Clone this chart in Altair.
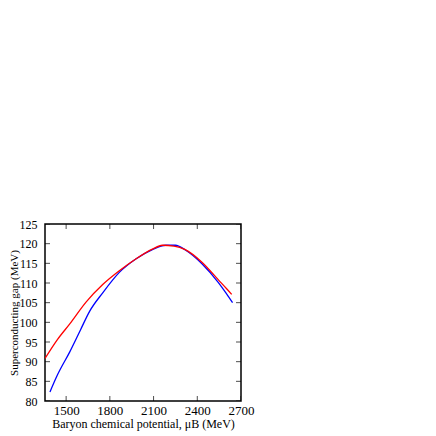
import altair as alt
import pandas as pd

# Blue curve
blue_mu = [1389, 1440, 1525, 1600, 1661, 1751, 1865, 1978, 2092, 2183, 2250, 2318, 2432, 2545, 2600, 2642]
blue_gap = [82.3, 86.6, 92.5, 98.2, 102.8, 107.5, 112.7, 116.1, 118.5, 119.6, 119.6, 118.4, 114.9, 110.1, 107.3, 105.0]

# Red curve
red_mu = [1355, 1440, 1525, 1638, 1751, 1865, 1978, 2092, 2160, 2240, 2318, 2432, 2545, 2600, 2636]
red_gap = [90.8, 95.6, 99.6, 105.2, 109.6, 113.1, 116.1, 118.6, 119.6, 119.4, 118.5, 115.3, 110.8, 108.6, 107.1]

x_ticks = [1500, 1800, 2100, 2400, 2700]
y_ticks = [80, 85, 90, 95, 100, 105, 110, 115, 120, 125]
x_min, x_max = 1355, 2700
y_min, y_max = 80, 125

df = pd.concat([
    pd.DataFrame({"mu": blue_mu, "gap": blue_gap, "s": "blue"}),
    pd.DataFrame({"mu": red_mu, "gap": red_gap, "s": "red"}),
])

font = "Liberation Serif"
xs = alt.Scale(domain=[x_min, x_max], nice=False, zero=False)
ys = alt.Scale(domain=[y_min, y_max], nice=False, zero=False)

x_enc = alt.X("mu:Q", scale=xs,
              axis=alt.Axis(values=x_ticks, format="d", title="Baryon chemical potential, μB (MeV)",
                            grid=False, ticks=False, labelPadding=3, domain=False,
                            labelFont=font, titleFont=font, labelFontSize=13, labelOverlap=False,
                            titleFontSize=12, titleFontWeight="normal", labelColor="black",
                            titleColor="black", titlePadding=1, labelFlush=False))
y_enc = alt.Y("gap:Q", scale=ys,
              axis=alt.Axis(values=y_ticks, format="d", title="Superconducting gap (MeV)",
                            grid=False, ticks=False, labelPadding=8, domain=False,
                            labelFont=font, titleFont=font, labelFontSize=12, labelOverlap=False,
                            titleFontSize=11, titleFontWeight="normal", labelColor="black",
                            titleColor="black", titlePadding=0, labelFlush=False))

lines = alt.Chart(df).mark_line(strokeWidth=1.3, clip=True, interpolate="monotone").encode(
    x=x_enc, y=y_enc,
    color=alt.Color("s:N", scale=alt.Scale(domain=["blue", "red"], range=["#0000ff", "#ff0000"]), legend=None),
    order="mu:Q",
)

ytick_df = pd.DataFrame({"mu": [x_min] * len(y_ticks) + [x_max] * len(y_ticks), "gap": y_ticks * 2})
xtick_df = pd.DataFrame({"mu": x_ticks * 2, "gap": [y_min] * len(x_ticks) + [y_max] * len(x_ticks)})

yt = alt.Chart(ytick_df).mark_tick(orient="horizontal", size=10, thickness=1, color="black", clip=True).encode(
    x=x_enc, y=y_enc)
xt = alt.Chart(xtick_df).mark_tick(orient="vertical", size=10, thickness=1, color="black", clip=True).encode(
    x=x_enc, y=y_enc)

chart = alt.layer(lines, yt, xt).properties(
    width=196, height=177,
    autosize=alt.AutoSizeParams(type="none"),
    padding={"top": 216, "left": 37, "right": 40, "bottom": 35},
).configure(background="white").configure_view(stroke="black", strokeWidth=1.5)

chart.save("out.html", embed_options={"renderer": "svg", "actions": False})
